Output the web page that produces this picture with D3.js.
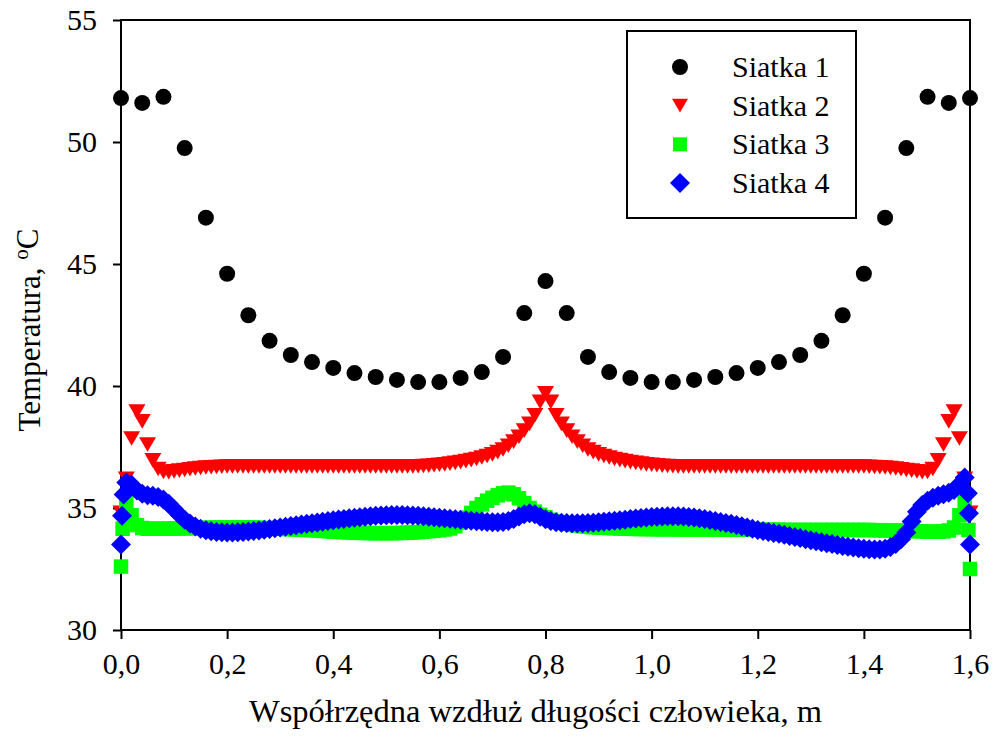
<!DOCTYPE html>
<html>
<head>
<meta charset="utf-8">
<script src="https://cdn.jsdelivr.net/npm/d3@7/dist/d3.min.js"></script>
<style>
  html, body { margin: 0; padding: 0; background: #fff; }
  svg { display: block; }
  text { font-family: "Liberation Serif", "Times New Roman", serif; fill: #000; }
</style>
</head>
<body>
<svg id="chart" width="993" height="746"></svg>
<script>
// Temperature along the body length for four computational meshes
const seriesNames = ["Siatka 1", "Siatka 2", "Siatka 3", "Siatka 4"];
const seriesColors = ["#000000", "#ff0000", "#00ff00", "#0000ff"];

const xTicks = [0, 0.2, 0.4, 0.6, 0.8, 1.0, 1.2, 1.4, 1.6];
const yTicks = [30, 35, 40, 45, 50, 55];

// Siatka 1: coarse mesh, node every 0.04 m
const siatka1X = [0.00, 0.04, 0.08, 0.12, 0.16, 0.20, 0.24, 0.28, 0.32, 0.36,
                  0.40, 0.44, 0.48, 0.52, 0.56, 0.60, 0.64, 0.68, 0.72, 0.76,
                  0.80, 0.84, 0.88, 0.92, 0.96, 1.00, 1.04, 1.08, 1.12, 1.16,
                  1.20, 1.24, 1.28, 1.32, 1.36, 1.40, 1.44, 1.48, 1.52, 1.56, 1.60];
const siatka1 = [51.80, 51.60, 51.85, 49.75, 46.90, 44.60, 42.90, 41.85, 41.27, 40.98,
                 40.74, 40.53, 40.37, 40.25, 40.16, 40.16, 40.33, 40.57, 41.19, 42.99,
                 44.30, 42.99, 41.19, 40.57, 40.33, 40.16, 40.16, 40.25, 40.37, 40.53,
                 40.74, 40.98, 41.27, 41.85, 42.90, 44.60, 46.90, 49.75, 51.85, 51.60, 51.80];

// Siatki 2-4: fine meshes, node every 0.01 m
const fineX = d3.range(161).map(i => i / 100);

const siatka2 = [
  34.80, 36.20, 37.85, 38.95, 38.55, 37.60, 36.95, 36.60, 36.48, 36.47,
  36.50, 36.53, 36.56, 36.59, 36.62, 36.64, 36.66, 36.67, 36.68, 36.69,
  36.70, 36.70, 36.70, 36.70, 36.70, 36.70, 36.70, 36.70, 36.70, 36.70,
  36.70, 36.70, 36.70, 36.70, 36.70, 36.70, 36.70, 36.70, 36.70, 36.70,
  36.70, 36.70, 36.70, 36.70, 36.70, 36.70, 36.70, 36.70, 36.70, 36.70,
  36.70, 36.70, 36.70, 36.70, 36.70, 36.70, 36.71, 36.72, 36.73, 36.75,
  36.77, 36.79, 36.82, 36.85, 36.88, 36.92, 36.96, 37.01, 37.07, 37.13,
  37.20, 37.29, 37.40, 37.55, 37.72, 37.92, 38.17, 38.45, 38.80, 39.35,
  39.70, 39.35, 38.80, 38.45, 38.17, 37.92, 37.72, 37.55, 37.40, 37.29,
  37.20, 37.13, 37.07, 37.01, 36.96, 36.92, 36.88, 36.85, 36.82, 36.79,
  36.77, 36.75, 36.73, 36.72, 36.71, 36.70, 36.70, 36.70, 36.70, 36.70,
  36.70, 36.70, 36.70, 36.70, 36.70, 36.70, 36.70, 36.70, 36.70, 36.70,
  36.70, 36.70, 36.70, 36.70, 36.70, 36.70, 36.70, 36.70, 36.70, 36.70,
  36.70, 36.70, 36.70, 36.70, 36.70, 36.70, 36.70, 36.70, 36.70, 36.70,
  36.70, 36.69, 36.68, 36.67, 36.66, 36.64, 36.62, 36.59, 36.56, 36.53,
  36.50, 36.47, 36.48, 36.60, 36.95, 37.60, 38.55, 38.95, 37.85, 36.20,
  34.80];

const siatka3 = [
  32.60, 35.20, 34.70, 34.30, 34.18, 34.15, 34.15, 34.15, 34.15, 34.15,
  34.16, 34.16, 34.17, 34.17, 34.18, 34.18, 34.19, 34.19, 34.20, 34.20,
  34.20, 34.20, 34.20, 34.20, 34.20, 34.20, 34.19, 34.18, 34.17, 34.16,
  34.15, 34.14, 34.13, 34.12, 34.11, 34.10, 34.09, 34.08, 34.06, 34.05,
  34.03, 34.02, 34.01, 34.00, 33.99, 33.98, 33.98, 33.97, 33.97, 33.97,
  33.97, 33.97, 33.97, 33.98, 33.99, 34.00, 34.01, 34.03, 34.05, 34.07,
  34.09, 34.12, 34.16, 34.25, 34.40, 34.60, 34.80, 35.00, 35.15, 35.30,
  35.42, 35.52, 35.60, 35.63, 35.56, 35.40, 35.20, 35.00, 34.85, 34.72,
  34.62, 34.52, 34.45, 34.40, 34.35, 34.31, 34.28, 34.25, 34.23, 34.21,
  34.20, 34.19, 34.18, 34.17, 34.16, 34.15, 34.15, 34.14, 34.14, 34.14,
  34.13, 34.13, 34.13, 34.13, 34.13, 34.12, 34.12, 34.12, 34.12, 34.12,
  34.12, 34.12, 34.12, 34.12, 34.12, 34.11, 34.11, 34.11, 34.11, 34.11,
  34.11, 34.11, 34.11, 34.11, 34.11, 34.10, 34.10, 34.10, 34.10, 34.10,
  34.10, 34.10, 34.10, 34.10, 34.10, 34.10, 34.10, 34.10, 34.10, 34.10,
  34.10, 34.10, 34.09, 34.09, 34.08, 34.08, 34.07, 34.07, 34.06, 34.06,
  34.05, 34.04, 34.03, 34.03, 34.03, 34.04, 34.08, 34.20, 34.70, 35.25,
  32.50];

const siatka4 = [
  33.50, 36.05, 35.95, 35.72, 35.58, 35.52, 35.50, 35.45, 35.35, 35.17,
  34.95, 34.72, 34.52, 34.36, 34.24, 34.15, 34.09, 34.05, 34.02, 34.01,
  34.00, 34.00, 34.01, 34.02, 34.04, 34.06, 34.08, 34.11, 34.14, 34.17,
  34.20, 34.23, 34.26, 34.29, 34.32, 34.35, 34.38, 34.41, 34.44, 34.47,
  34.50, 34.53, 34.55, 34.58, 34.60, 34.62, 34.64, 34.66, 34.68, 34.69,
  34.70, 34.71, 34.71, 34.71, 34.70, 34.69, 34.68, 34.66, 34.64, 34.62,
  34.60, 34.58, 34.56, 34.54, 34.52, 34.50, 34.48, 34.46, 34.45, 34.43,
  34.42, 34.42, 34.43, 34.47, 34.55, 34.65, 34.74, 34.78, 34.74, 34.64,
  34.54, 34.47, 34.42, 34.40, 34.39, 34.38, 34.38, 34.38, 34.39, 34.40,
  34.42, 34.44, 34.46, 34.48, 34.50, 34.52, 34.55, 34.57, 34.59, 34.61,
  34.63, 34.64, 34.65, 34.66, 34.66, 34.66, 34.65, 34.63, 34.61, 34.58,
  34.55, 34.51, 34.47, 34.43, 34.39, 34.35, 34.30, 34.25, 34.20, 34.15,
  34.10, 34.06, 34.02, 33.98, 33.94, 33.90, 33.85, 33.81, 33.77, 33.72,
  33.68, 33.64, 33.60, 33.56, 33.52, 33.48, 33.44, 33.41, 33.38, 33.35,
  33.33, 33.31, 33.30, 33.30, 33.33, 33.40, 33.52, 33.72, 34.00, 34.45,
  34.85, 35.12, 35.30, 35.42, 35.50, 35.56, 35.62, 35.74, 35.97, 36.25,
  33.50];

// Extra boundary-layer nodes right at both ends of the body
const siatka3EdgeX = [0.003, 1.597];
const siatka3Edge = [34.15, 34.10];
const siatka4EdgeX = [0.002, 0.005, 1.596, 1.598];
const siatka4Edge = [34.68, 35.55, 35.60, 34.78];

const serif = '"Liberation Serif", "Times New Roman", serif';
const svg = d3.select("#chart");
const plotLeft = 121, plotRight = 970, plotTop = 20, plotBottom = 630;

const x = d3.scaleLinear().domain([0, 1.6]).range([plotLeft, plotRight]);
const y = d3.scaleLinear().domain([30, 55]).range([plotBottom, plotTop]);

const plLocale = d3.formatLocale({ decimal: ",", thousands: " ", grouping: [3], currency: ["", " zł"] });
const fmtX = plLocale.format(".1f");

// Marker shapes
const markers = {
  circle: (s) => { const r = s / 2; return `M${-r},0A${r},${r} 0 1,0 ${r},0A${r},${r} 0 1,0 ${-r},0Z`; },
  triangleDown: (s) => { const w = s / 2, h = s * 0.43; return `M${-w},${-h}L${w},${-h}L0,${h}Z`; },
  square: (s) => { const h = s / 2; return `M${-h},${-h}H${h}V${h}H${-h}Z`; },
  diamond: (s) => { const h = s / 2; return `M0,${-h}L${h},0L0,${h}L${-h},0Z`; }
};

// Frame and axes
const axisG = svg.append("g");
axisG.append("rect")
  .attr("x", plotLeft).attr("y", plotTop)
  .attr("width", plotRight - plotLeft).attr("height", plotBottom - plotTop)
  .attr("fill", "none").attr("stroke", "#000").attr("stroke-width", 2);

const yAxis = d3.axisLeft(y).tickValues(yTicks).tickSize(8).tickSizeOuter(0).tickPadding(16).tickFormat(d3.format("d"));
const gy = axisG.append("g").attr("transform", `translate(${plotLeft},0)`).call(yAxis);
gy.select(".domain").remove();
gy.selectAll(".tick line").attr("stroke", "#000").attr("stroke-width", 2);
gy.selectAll(".tick text").style("font-family", serif).style("font-size", "30px");

const xAxis = d3.axisBottom(x).tickValues(xTicks).tickSize(9).tickSizeOuter(0).tickPadding(14).tickFormat(fmtX);
const gx = axisG.append("g").attr("transform", `translate(0,${plotBottom})`).call(xAxis);
gx.select(".domain").remove();
gx.selectAll(".tick line").attr("stroke", "#000").attr("stroke-width", 2);
gx.selectAll(".tick text").style("font-family", serif).style("font-size", "30px");

// Axis titles
svg.append("text")
  .attr("x", (plotLeft + plotRight) / 2 - 10).attr("y", 722)
  .attr("text-anchor", "middle")
  .style("font-family", serif).style("font-size", "32.5px")
  .text("Współrzędna wzdłuż długości człowieka, m");

const yTitle = svg.append("text")
  .attr("transform", "translate(40,330) rotate(-90)")
  .attr("text-anchor", "middle")
  .style("font-family", serif).style("font-size", "31px");
yTitle.append("tspan").text("Temperatura, ");
yTitle.append("tspan").style("font-size", "21px").attr("dy", -12).text("o");
yTitle.append("tspan").attr("dy", 10).text("C");

// Data points
const plot = svg.append("g");
const draw = (xs, ys, shape, size, color) => {
  plot.append("g").selectAll("path")
    .data(xs.map((d, i) => [d, ys[i]]))
    .join("path")
    .attr("transform", d => `translate(${x(d[0])},${y(d[1])})`)
    .attr("d", markers[shape](size))
    .attr("fill", color);
};

draw(siatka1X, siatka1, "circle", 16, seriesColors[0]);
draw(fineX, siatka2, "triangleDown", 17, seriesColors[1]);
draw(fineX, siatka3, "square", 14.5, seriesColors[2]);
draw(siatka3EdgeX, siatka3Edge, "square", 14.5, seriesColors[2]);
draw(fineX, siatka4, "diamond", 20, seriesColors[3]);
draw(siatka4EdgeX, siatka4Edge, "diamond", 20, seriesColors[3]);

// Legend
const legend = svg.append("g");
legend.append("rect")
  .attr("x", 627).attr("y", 31).attr("width", 229).attr("height", 187)
  .attr("fill", "#fff").attr("stroke", "#000").attr("stroke-width", 2);
const legendShapes = [["circle", 16], ["triangleDown", 16], ["square", 14], ["diamond", 20]];
const rowY = d3.scalePoint().domain(seriesNames).range([67, 183]);
seriesNames.forEach((name, i) => {
  legend.append("path")
    .attr("transform", `translate(680,${rowY(name)})`)
    .attr("d", markers[legendShapes[i][0]](legendShapes[i][1]))
    .attr("fill", seriesColors[i]);
  legend.append("text")
    .attr("x", 732).attr("y", rowY(name) + 10)
    .style("font-family", serif).style("font-size", "30px")
    .text(name);
});
</script>
</body>
</html>
